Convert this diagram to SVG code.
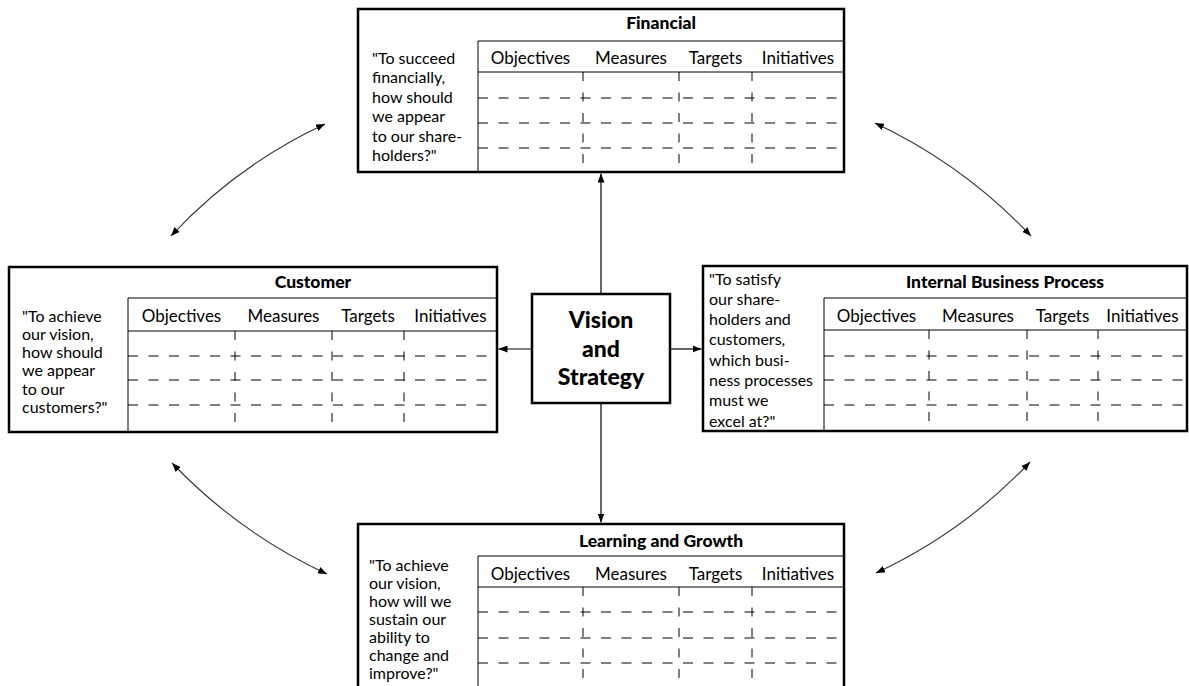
<svg xmlns="http://www.w3.org/2000/svg" width="1189" height="686" viewBox="0 0 1189 686">
  <style>
    .box { fill: #fff; stroke: #000; stroke-width: 2.5; }
    .rule { stroke: #000; stroke-width: 1; fill: none; }
    .hdash { stroke: #000; stroke-width: 1; stroke-dasharray: 10 10.5; fill: none; }
    .vdash { stroke: #000; stroke-width: 1; stroke-dasharray: 9 11.5; fill: none; }
    .title { font-family: Lato, "Open Sans", sans-serif; font-weight: 900; font-size: 17.5px; text-anchor: middle; fill: #000; }
    .col { font-family: Lato, "Open Sans", sans-serif; font-size: 17px; text-anchor: middle; fill: #000; }
    .q { font-family: Lato, "Open Sans", sans-serif; font-size: 16px; fill: #000; }
    .vision { font-family: Lato, "Open Sans", sans-serif; font-weight: 900; font-size: 23px; text-anchor: middle; fill: #000; }
    .link { stroke: #000; stroke-width: 1.2; fill: none; }
    .arc { stroke: #333; stroke-width: 1.1; fill: none; }
  </style>
  <defs>
    <marker id="head" viewBox="0 0 9 7" refX="9" refY="3.5" markerWidth="9" markerHeight="7" markerUnits="userSpaceOnUse" orient="auto-start-reverse">
      <path d="M0,0 L9,3.5 L0,7 z" fill="#000"/>
    </marker>
  </defs>

  <rect width="1189" height="686" fill="#fff"/>

  <!-- Financial perspective -->
  <g id="financial">
    <rect class="box" x="358" y="9" width="486" height="163"/>
    <text class="title" x="661" y="29">Financial</text>
    <line class="rule" x1="478" y1="41" x2="844" y2="41"/>
    <line class="rule" x1="478" y1="72" x2="844" y2="72"/>
    <line class="rule" x1="478" y1="41" x2="478" y2="172"/>
    <text class="col" x="530.5" y="64">Objectives</text>
    <text class="col" x="631" y="64">Measures</text>
    <text class="col" x="715.5" y="64">Targets</text>
    <text class="col" x="798" y="64">Initiatives</text>
    <line class="hdash" x1="478" y1="98" x2="844" y2="98"/>
    <line class="hdash" x1="478" y1="123" x2="844" y2="123"/>
    <line class="hdash" x1="478" y1="148" x2="844" y2="148"/>
    <line class="vdash" x1="583" y1="72" x2="583" y2="172"/>
    <line class="vdash" x1="679" y1="72" x2="679" y2="172"/>
    <line class="vdash" x1="752" y1="72" x2="752" y2="172"/>
    <text class="q" x="372" y="63.5">"To succeed</text>
    <text class="q" x="372" y="83">financially,</text>
    <text class="q" x="372" y="102.5">how should</text>
    <text class="q" x="372" y="122">we appear</text>
    <text class="q" x="372" y="141.5">to our share-</text>
    <text class="q" x="372" y="161">holders?"</text>
  </g>

  <!-- Customer perspective -->
  <g id="customer">
    <rect class="box" x="9" y="267" width="488" height="165"/>
    <text class="title" x="313" y="288">Customer</text>
    <line class="rule" x1="128" y1="298" x2="497" y2="298"/>
    <line class="rule" x1="128" y1="331" x2="497" y2="331"/>
    <line class="rule" x1="128" y1="298" x2="128" y2="432"/>
    <text class="col" x="181.5" y="322">Objectives</text>
    <text class="col" x="283.5" y="322">Measures</text>
    <text class="col" x="368" y="322">Targets</text>
    <text class="col" x="450.5" y="322">Initiatives</text>
    <line class="hdash" x1="128" y1="356" x2="497" y2="356"/>
    <line class="hdash" x1="128" y1="380" x2="497" y2="380"/>
    <line class="hdash" x1="128" y1="405" x2="497" y2="405"/>
    <line class="vdash" x1="235" y1="331" x2="235" y2="432"/>
    <line class="vdash" x1="332" y1="331" x2="332" y2="432"/>
    <line class="vdash" x1="404" y1="331" x2="404" y2="432"/>
    <text class="q" x="22" y="321.5">"To achieve</text>
    <text class="q" x="22" y="339.8">our vision,</text>
    <text class="q" x="22" y="358.1">how should</text>
    <text class="q" x="22" y="376.4">we appear</text>
    <text class="q" x="22" y="394.7">to our</text>
    <text class="q" x="22" y="413">customers?"</text>
  </g>

  <!-- Internal business process perspective -->
  <g id="internal">
    <rect class="box" x="703" y="266" width="484" height="165"/>
    <text class="title" x="1005" y="288">Internal Business Process</text>
    <line class="rule" x1="824" y1="298" x2="1187" y2="298"/>
    <line class="rule" x1="824" y1="330" x2="1187" y2="330"/>
    <line class="rule" x1="824" y1="298" x2="824" y2="431"/>
    <text class="col" x="876.5" y="322">Objectives</text>
    <text class="col" x="978" y="322">Measures</text>
    <text class="col" x="1062.5" y="322">Targets</text>
    <text class="col" x="1142.5" y="322">Initiatives</text>
    <line class="hdash" x1="824" y1="356" x2="1187" y2="356"/>
    <line class="hdash" x1="824" y1="380" x2="1187" y2="380"/>
    <line class="hdash" x1="824" y1="405" x2="1187" y2="405"/>
    <line class="vdash" x1="929" y1="330" x2="929" y2="431"/>
    <line class="vdash" x1="1027" y1="330" x2="1027" y2="431"/>
    <line class="vdash" x1="1098" y1="330" x2="1098" y2="431"/>
    <text class="q" x="709" y="284.5">"To satisfy</text>
    <text class="q" x="709" y="304.8">our share-</text>
    <text class="q" x="709" y="325.1">holders and</text>
    <text class="q" x="709" y="345.4">customers,</text>
    <text class="q" x="709" y="365.7">which busi-</text>
    <text class="q" x="709" y="386">ness processes</text>
    <text class="q" x="709" y="406.3">must we</text>
    <text class="q" x="709" y="426.6">excel at?"</text>
  </g>

  <!-- Learning and growth perspective -->
  <g id="learning">
    <rect class="box" x="358" y="524" width="486" height="180"/>
    <text class="title" x="661" y="547">Learning and Growth</text>
    <line class="rule" x1="478" y1="556" x2="844" y2="556"/>
    <line class="rule" x1="478" y1="587" x2="844" y2="587"/>
    <line class="rule" x1="478" y1="556" x2="478" y2="704"/>
    <text class="col" x="530.5" y="580">Objectives</text>
    <text class="col" x="631" y="580">Measures</text>
    <text class="col" x="715.5" y="580">Targets</text>
    <text class="col" x="798" y="580">Initiatives</text>
    <line class="hdash" x1="478" y1="612" x2="844" y2="612"/>
    <line class="hdash" x1="478" y1="638" x2="844" y2="638"/>
    <line class="hdash" x1="478" y1="663" x2="844" y2="663"/>
    <line class="vdash" x1="583" y1="587" x2="583" y2="704"/>
    <line class="vdash" x1="679" y1="587" x2="679" y2="704"/>
    <line class="vdash" x1="752" y1="587" x2="752" y2="704"/>
    <text class="q" x="369" y="571">"To achieve</text>
    <text class="q" x="369" y="589">our vision,</text>
    <text class="q" x="369" y="607">how will we</text>
    <text class="q" x="369" y="625">sustain our</text>
    <text class="q" x="369" y="643">ability to</text>
    <text class="q" x="369" y="661">change and</text>
    <text class="q" x="369" y="679">improve?"</text>
  </g>

  <!-- Central vision and strategy box -->
  <g id="vision">
    <rect class="box" x="532" y="294" width="138" height="109"/>
    <text class="vision" x="601" y="328">Vision</text>
    <text class="vision" x="601" y="357">and</text>
    <text class="vision" x="601" y="385">Strategy</text>
  </g>

  <!-- Connectors -->
  <g id="connectors">
    <line class="link" x1="601" y1="294" x2="601" y2="173.5" marker-end="url(#head)"/>
    <line class="link" x1="601" y1="403" x2="601" y2="522.5" marker-end="url(#head)"/>
    <line class="link" x1="532" y1="349" x2="498.5" y2="349" marker-end="url(#head)"/>
    <line class="link" x1="670" y1="349" x2="701.5" y2="349" marker-end="url(#head)"/>
    <path class="arc" d="M325,124 Q237,165 171,236" marker-start="url(#head)" marker-end="url(#head)"/>
    <path class="arc" d="M875,123 Q964,165 1031,236" marker-start="url(#head)" marker-end="url(#head)"/>
    <path class="arc" d="M172,463 Q239,533 327,574" marker-start="url(#head)" marker-end="url(#head)"/>
    <path class="arc" d="M1030,462 Q964,532 876,573" marker-start="url(#head)" marker-end="url(#head)"/>
  </g>
</svg>
